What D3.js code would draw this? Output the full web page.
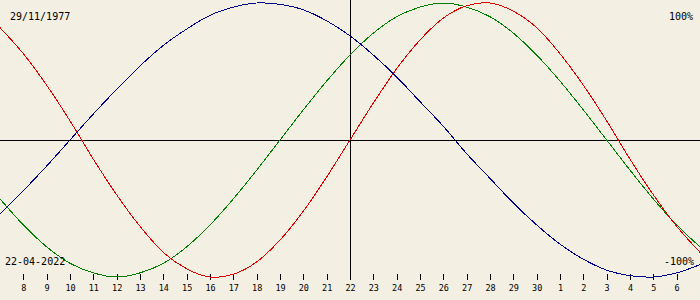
<!DOCTYPE html>
<html><head><meta charset="utf-8">
<script src="https://cdn.jsdelivr.net/npm/d3@7"></script>
<style>
html,body{margin:0;padding:0;background:#f3efe3;}
svg{display:block;}
text{font-family:"DejaVu Sans Mono",monospace;fill:#000;}
</style></head><body>
<svg id="c" width="700" height="300"></svg>
<script>
// days shown: 7 Apr 2022 .. 7 May 2022 (one sample per day)
const startDate = "2022-04-07";
const birthLabel = "29/11/1977";
const dateLabel = "22-04-2022";
const topLabel = "100%";
const bottomLabel = "-100%";
const tickLabels = ["8","9","10","11","12","13","14","15","16","17","18","19","20","21","22","23","24","25","26","27","28","29","30","1","2","3","4","5","6"];
// values in percent
const physical = [82,63,40,14,-14,-40,-63,-82,-94,-100,-98,-89,-73,-52,-27,0,27,52,73,89,98,100,94,82,63,40,14,-14,-40,-63,-82];
const emotional = [-43,-62,-78,-90,-97,-100,-97,-90,-78,-62,-43,-22,0,22,43,62,78,90,97,100,97,90,78,62,43,22,0,-22,-43,-62,-78];
const intellectual = [-54,-37,-19,0,19,37,54,69,81,91,97,100,99,95,87,76,62,46,28,10,-10,-28,-46,-62,-76,-87,-95,-99,-100,-97,-91];

const W = 700, H = 300;
const svg = d3.select("#c");
const t0 = new Date(startDate + "T00:00:00Z");
const day = i => new Date(t0.getTime() + i * 86400000);
const x = d3.scaleUtc().domain([day(0), day(30)]).range([0, W]);
const y = d3.scaleLinear().domain([-100, 100]).range([277, 3]);

// zero line and today line
svg.append("line").attr("x1", 0).attr("x2", W).attr("y1", y(0)).attr("y2", y(0))
  .attr("stroke", "#000").attr("shape-rendering", "crispEdges");
svg.append("line").attr("x1", x(day(15))).attr("x2", x(day(15))).attr("y1", 0).attr("y2", 280)
  .attr("stroke", "#000").attr("shape-rendering", "crispEdges");

// axis
const tickDates = tickLabels.map((_, i) => day(i + 1));
const axis = d3.axisBottom(x).tickValues(tickDates)
  .tickFormat((d, i) => tickLabels[i]).tickSize(6).tickPadding(5);
const g = svg.append("g").attr("transform", "translate(0,274)").call(axis);
g.select(".domain").remove();
g.selectAll(".tick line").attr("stroke", "#000").attr("shape-rendering", "crispEdges");
g.selectAll(".tick text").attr("font-family", "DejaVu Sans Mono").attr("font-size", 8.5).attr("fill", "#000");

// curves
const line = d3.line().x((d, i) => x(day(i))).y(d => y(d)).curve(d3.curveCatmullRom.alpha(0));
[[emotional, "#008000"], [physical, "#e00000"], [intellectual, "#000090"]].forEach(([s, c]) => {
  svg.append("path").attr("d", line(s)).attr("fill", "none").attr("stroke", c)
    .attr("stroke-width", 1).attr("shape-rendering", "crispEdges");
});

// labels
svg.append("text").attr("x", 10).attr("y", 20).attr("font-size", 10).text(birthLabel);
svg.append("text").attr("x", 693).attr("y", 20).attr("font-size", 10).attr("text-anchor", "end").text(topLabel);
svg.append("text").attr("x", 5).attr("y", 265).attr("font-size", 10).text(dateLabel);
svg.append("text").attr("x", 694).attr("y", 265).attr("font-size", 10).attr("text-anchor", "end").text(bottomLabel);
</script>
</body></html>
